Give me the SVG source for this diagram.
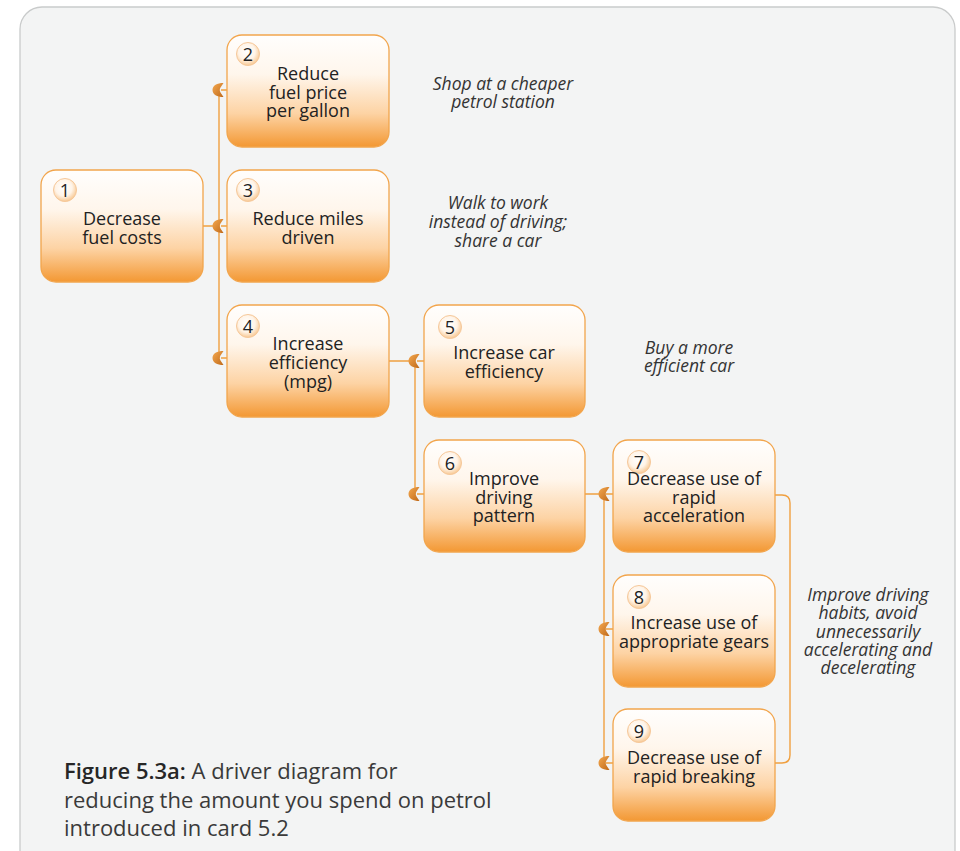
<svg xmlns="http://www.w3.org/2000/svg" xmlns:xlink="http://www.w3.org/1999/xlink" width="960" height="851" viewBox="0 0 960 851">
  <style>
    .box { fill: url(#boxFill); stroke: #f2a54c; stroke-width: 1.3; }
    .num { fill: url(#numFill); stroke: #f6c89a; stroke-width: 1; }
    .numtxt { font-family: "Open Sans", "Noto Sans", sans-serif; font-size: 18px; fill: #222; text-anchor: middle; }
    .lbl { font-family: "Open Sans", "Noto Sans", sans-serif; font-size: 18px; fill: #222; text-anchor: middle; }
    .note { font-family: "Open Sans", "Noto Sans", sans-serif; font-size: 17.5px; font-style: italic; fill: #333; text-anchor: middle; }
    .cap { font-family: "Open Sans", "Noto Sans", sans-serif; font-size: 22px; fill: #3a3a3a; }
    .wire { fill: none; stroke: #f0a040; stroke-width: 1.4; }
  </style>
  <defs>
    <linearGradient id="boxFill" x1="0" y1="0" x2="0" y2="1">
      <stop offset="0" stop-color="#fffefd"/>
      <stop offset="0.35" stop-color="#fff6ec"/>
      <stop offset="0.7" stop-color="#fdd3a4"/>
      <stop offset="1" stop-color="#f39833"/>
    </linearGradient>
    <radialGradient id="numFill" cx="0.45" cy="0.4" r="0.6">
      <stop offset="0" stop-color="#ffffff"/>
      <stop offset="0.6" stop-color="#fff4e8"/>
      <stop offset="1" stop-color="#f8c994"/>
    </radialGradient>
    <linearGradient id="tipFill" x1="0" y1="0" x2="1" y2="1">
      <stop offset="0" stop-color="#f4a84f"/>
      <stop offset="1" stop-color="#c06a1a"/>
    </linearGradient>
    <!-- crescent arrow tip pointing left, centred on its notch -->
    <symbol id="tip" overflow="visible">
      <path d="M-6.5,0 C-6.5,-4.5 -2,-7 4.5,-7 L1.5,-2.5 C0.5,-1 0.5,1 1.5,2.5 L4.5,7 C-2,7 -6.5,4.5 -6.5,0 Z" fill="url(#tipFill)"/>
    </symbol>
  </defs>

  <!-- panel -->
  <rect x="20" y="7" width="935" height="880" rx="22" fill="#f3f4f4" stroke="#c9cbcb" stroke-width="1.3"/>

  <g id="connectors">
    <path class="wire" d="M203,226 H219 M219,96 V358 M221,90 H227 M221,226 H227 M221,358 H227"/>
    <path class="wire" d="M389,361 H412 M415,367 V494 M417,361 H424 M417,494 H424"/>
    <path class="wire" d="M585,494 H602 M604,500 V763 M606,494 H613 M606,629 H613 M606,763 H613"/>
    <path class="wire" d="M775,495 H782 Q790,495 790,503 V755 Q790,763 782,763 H775"/>
    <use xlink:href="#tip" x="219" y="90"/>
    <use xlink:href="#tip" x="219" y="226"/>
    <use xlink:href="#tip" x="219" y="358"/>
    <use xlink:href="#tip" x="415" y="361"/>
    <use xlink:href="#tip" x="415" y="494"/>
    <use xlink:href="#tip" x="605" y="494"/>
    <use xlink:href="#tip" x="605" y="629"/>
    <use xlink:href="#tip" x="605" y="763"/>
  </g>

  <g id="node1">
    <rect class="box" x="41" y="170" width="162" height="112" rx="15"/>
    <circle class="num" cx="65" cy="190" r="11.5"/>
    <text class="numtxt" x="65" y="196.5">1</text>
    <text class="lbl" x="122" y="225">Decrease</text>
    <text class="lbl" x="122" y="244">fuel costs</text>
  </g>
  <g id="node2">
    <rect class="box" x="227" y="35" width="162" height="112" rx="15"/>
    <circle class="num" cx="248" cy="54" r="11.5"/>
    <text class="numtxt" x="248" y="60.5">2</text>
    <text class="lbl" x="308" y="80">Reduce</text>
    <text class="lbl" x="308" y="99">fuel price</text>
    <text class="lbl" x="308" y="117">per gallon</text>
  </g>
  <g id="node3">
    <rect class="box" x="227" y="170" width="162" height="112" rx="15"/>
    <circle class="num" cx="248" cy="190" r="11.5"/>
    <text class="numtxt" x="248" y="196.5">3</text>
    <text class="lbl" x="308" y="225">Reduce miles</text>
    <text class="lbl" x="308" y="244">driven</text>
  </g>
  <g id="node4">
    <rect class="box" x="227" y="305" width="162" height="112" rx="15"/>
    <circle class="num" cx="248" cy="326" r="11.5"/>
    <text class="numtxt" x="248" y="332.5">4</text>
    <text class="lbl" x="308" y="350">Increase</text>
    <text class="lbl" x="308" y="369">efficiency</text>
    <text class="lbl" x="308" y="388">(mpg)</text>
  </g>
  <g id="node5">
    <rect class="box" x="424" y="305" width="161" height="112" rx="15"/>
    <circle class="num" cx="450" cy="327" r="11.5"/>
    <text class="numtxt" x="450" y="333.5">5</text>
    <text class="lbl" x="504" y="359">Increase car</text>
    <text class="lbl" x="504" y="378">efficiency</text>
  </g>
  <g id="node6">
    <rect class="box" x="424" y="440" width="161" height="112" rx="15"/>
    <circle class="num" cx="450" cy="463" r="11.5"/>
    <text class="numtxt" x="450" y="469.5">6</text>
    <text class="lbl" x="504" y="485">Improve</text>
    <text class="lbl" x="504" y="504">driving</text>
    <text class="lbl" x="504" y="522">pattern</text>
  </g>
  <g id="node7">
    <rect class="box" x="613" y="440" width="162" height="112" rx="15"/>
    <circle class="num" cx="639" cy="462" r="11.5"/>
    <text class="numtxt" x="639" y="468.5">7</text>
    <text class="lbl" x="694" y="485">Decrease use of</text>
    <text class="lbl" x="694" y="504">rapid</text>
    <text class="lbl" x="694" y="522">acceleration</text>
  </g>
  <g id="node8">
    <rect class="box" x="613" y="575" width="162" height="112" rx="15"/>
    <circle class="num" cx="639" cy="597" r="11.5"/>
    <text class="numtxt" x="639" y="603.5">8</text>
    <text class="lbl" x="694" y="629">Increase use of</text>
    <text class="lbl" x="694" y="648">appropriate gears</text>
  </g>
  <g id="node9">
    <rect class="box" x="613" y="709" width="162" height="112" rx="15"/>
    <circle class="num" cx="639" cy="731" r="11.5"/>
    <text class="numtxt" x="639" y="737.5">9</text>
    <text class="lbl" x="694" y="764">Decrease use of</text>
    <text class="lbl" x="694" y="783">rapid breaking</text>
  </g>

  <g id="notes">
    <text class="note" x="503" y="90">Shop at a cheaper</text>
    <text class="note" x="503" y="108">petrol station</text>
    <text class="note" x="498" y="209">Walk to work</text>
    <text class="note" x="498" y="228">instead of driving;</text>
    <text class="note" x="498" y="247">share a car</text>
    <text class="note" x="689" y="354">Buy a more</text>
    <text class="note" x="689" y="372">efficient car</text>
    <text class="note" x="868" y="601">Improve driving</text>
    <text class="note" x="868" y="619">habits, avoid</text>
    <text class="note" x="868" y="638">unnecessarily</text>
    <text class="note" x="868" y="656">accelerating and</text>
    <text class="note" x="868" y="674">decelerating</text>
  </g>

  <g id="caption">
    <text class="cap" x="64" y="779"><tspan fill="#262626" font-weight="600">Figure 5.3a:</tspan> A driver diagram for</text>
    <text class="cap" x="64" y="808">reducing the amount you spend on petrol</text>
    <text class="cap" x="64" y="836">introduced in card 5.2</text>
  </g>
</svg>
